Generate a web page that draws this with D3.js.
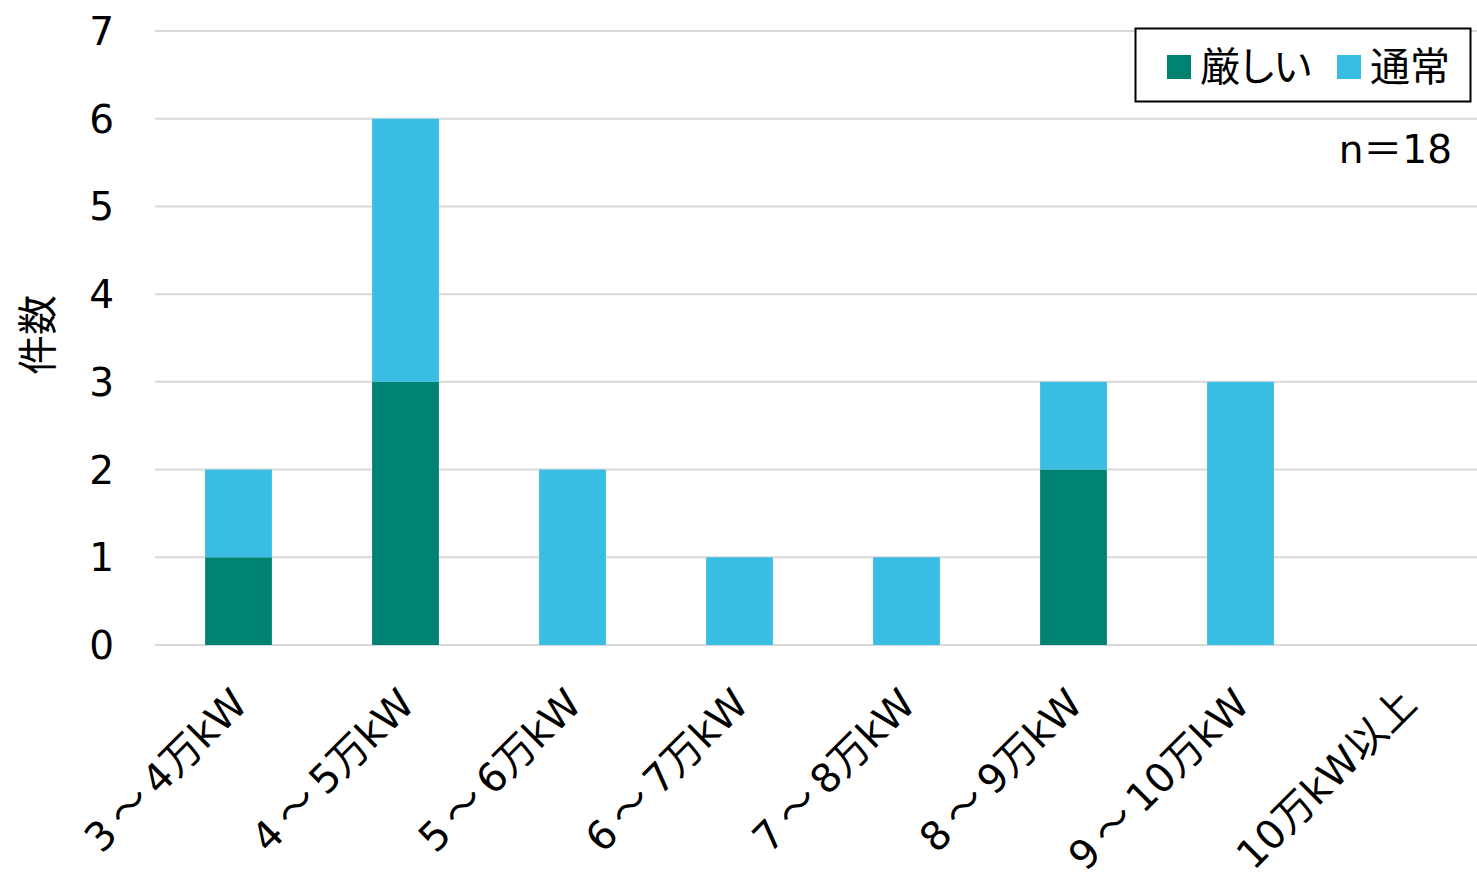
<!DOCTYPE html>
<html>
<head>
<meta charset="utf-8">
<script src="https://cdn.jsdelivr.net/npm/d3@7"></script>
<style>
  html, body { margin: 0; padding: 0; background: #fff; }
  svg text { font-family: "DejaVu Sans", "Noto Sans CJK JP", sans-serif; fill: #000; }
  svg .cjk { font-family: "Noto Sans CJK JP", sans-serif; font-feature-settings: "palt"; }
  svg .fw { font-family: "Noto Sans CJK JP", sans-serif; }
</style>
</head>
<body>
<svg id="chart" width="1477" height="873"></svg>
<script>
// Capacity classes and counts per class
const categories = ["3～4万kW", "4～5万kW", "5～6万kW", "6～7万kW", "7～8万kW", "8～9万kW", "9～10万kW", "10万kW以上"];
const severe = [1, 3, 0, 0, 0, 2, 0, 0];   // 厳しい
const normal = [1, 3, 2, 1, 1, 1, 3, 0];   // 通常
const seriesNames = ["厳しい", "通常"];
const yTicks = [0, 1, 2, 3, 4, 5, 6, 7];
const colors = ["#008272", "#3abde2"];

const svg = d3.select("#chart");
const margin = { left: 155, top: 31, bottom: 645 };

const x = d3.scaleBand()
  .domain(categories)
  .range([margin.left, margin.left + 167 * categories.length])
  .paddingInner(0.6)
  .paddingOuter(0.3);

const y = d3.scaleLinear().domain([0, 7]).range([margin.bottom, margin.top]);

// Split a label into runs so full-width symbols use the CJK face,
// with a little breathing room on either side of them
function writeRuns(sel, str, pad) {
  const runs = str.match(/[～＝]+|[^～＝]+/g);
  let prevWide = false;
  runs.forEach(r => {
    const wide = /[～＝]/.test(r);
    const t = sel.append("tspan").text(r);
    if (wide) t.attr("class", "fw");
    if (pad && (wide || prevWide)) t.attr("dx", pad);
    prevWide = wide;
  });
}

// Gridlines
svg.append("g")
  .selectAll("line")
  .data(yTicks)
  .join("line")
  .attr("x1", margin.left).attr("x2", 1477)
  .attr("y1", d => y(d)).attr("y2", d => y(d))
  .attr("stroke", "#d9d9d9").attr("stroke-width", 2);

// Y tick labels
svg.append("g")
  .selectAll("text")
  .data(yTicks)
  .join("text")
  .attr("x", 114).attr("y", d => y(d))
  .attr("dy", "0.36em")
  .attr("text-anchor", "end")
  .attr("font-size", 39)
  .text(d => d);

// Y axis title
svg.append("text")
  .attr("class", "fw")
  .attr("transform", "translate(52,335) rotate(-90)")
  .attr("text-anchor", "middle")
  .attr("font-size", 40)
  .text("件数");

// Stacked bars
const table = categories.map((c, i) => ({ cat: c, 厳しい: severe[i], 通常: normal[i] }));
const stacked = d3.stack().keys(seriesNames)(table);

svg.append("g")
  .selectAll("g")
  .data(stacked)
  .join("g")
  .attr("fill", (d, i) => colors[i])
  .selectAll("rect")
  .data(d => d)
  .join("rect")
  .attr("x", d => x(d.data.cat))
  .attr("width", x.bandwidth())
  .attr("y", d => y(d[1]))
  .attr("height", d => y(d[0]) - y(d[1]));

// X category labels, rotated
svg.append("g")
  .selectAll("text")
  .data(categories)
  .join("text")
  .attr("transform", d => `translate(${x(d) + x.bandwidth() / 2 - 10},${685}) rotate(-45)`)
  .attr("text-anchor", "end")
  .attr("dy", "0.75em")
  .attr("font-size", 40)
  .each(function (d) { writeRuns(d3.select(this), d, 8); });

// Legend
const lg = svg.append("g");
lg.append("rect")
  .attr("x", 1135.5).attr("y", 28.5).attr("width", 335).attr("height", 73)
  .attr("fill", "#fff").attr("stroke", "#000").attr("stroke-width", 2);
const legendX = [1167, 1337];
seriesNames.forEach((name, i) => {
  lg.append("rect")
    .attr("x", legendX[i]).attr("y", 55).attr("width", 24).attr("height", 24)
    .attr("fill", colors[i]);
  lg.append("text")
    .attr("class", "cjk")
    .attr("x", legendX[i] + 33).attr("y", 67)
    .attr("dy", "0.36em")
    .attr("font-size", 40)
    .text(name);
});

// Sample size note
const note = svg.append("text")
  .attr("x", 1452).attr("y", 149)
  .attr("dy", "0.36em")
  .attr("text-anchor", "end")
  .attr("font-size", 39);
writeRuns(note, "n＝18", 0);
</script>
</body>
</html>
